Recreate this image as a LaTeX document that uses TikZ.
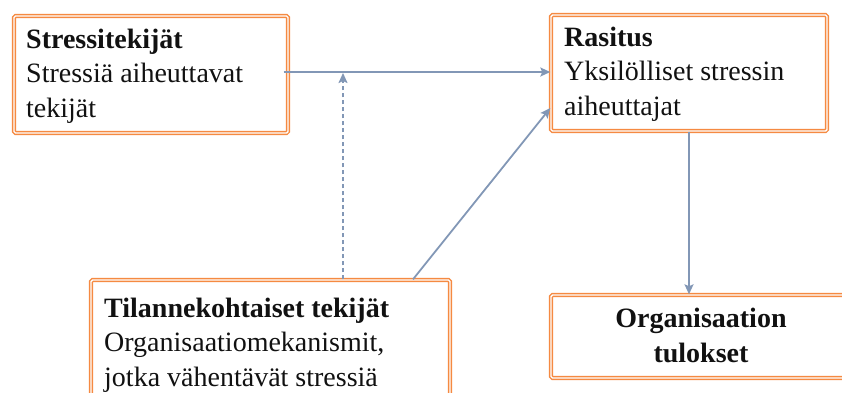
\documentclass[tikz,border=0pt]{standalone}
\usepackage{fontspec}
\setmainfont{Liberation Serif}
\usetikzlibrary{arrows.meta}
\definecolor{boxorange}{HTML}{F58A42}
\definecolor{linkblue}{HTML}{8297B6}
\definecolor{ink}{HTML}{111111}
\tikzset{
  framebox/.style={draw=boxorange, line width=1.4pt, double=white,
    double distance=1.4pt, rounded corners=1.5pt, inner sep=0pt},
  label text/.style={anchor=base west, inner sep=0pt, align=left,
    text=ink, font=\fontsize{28}{34.5}\selectfont},
  link/.style={draw=linkblue, line width=1.8pt,
    -{Stealth[length=10pt,width=9pt,inset=2pt]}},
  dashed link/.style={link, dash pattern=on 4.5pt off 2.5pt}
}
\begin{document}
\begin{tikzpicture}[x=1pt,y=1pt]
\useasboundingbox (0,0) rectangle (842,-392);

% boxes
\node[framebox, minimum width=274pt, minimum height=117pt] (box1) at (151,-74.5) {};
\node[framebox, minimum width=276pt, minimum height=116pt] (box2) at (689,-73) {};
\node[framebox, minimum width=359pt, minimum height=140pt] (box3) at (270.5,-350) {};
\node[framebox, minimum width=304pt, minimum height=83pt] (box4) at (703,-336.5) {};

% box texts (anchored on the baseline of their last line)
\node[label text] (t1) at (26,-117) {\textbf{Stressitekijät}\\Stressiä aiheuttavat\\tekijät};
\node[label text] (t2) at (564,-115) {\textbf{Rasitus}\\Yksilölliset stressin\\aiheuttajat};
\node[label text] (t3) at (104,-386) {\textbf{Tilannekohtaiset tekijät}\\Organisaatiomekanismit,\\jotka vähentävät stressiä};
\node[label text, anchor=base, align=center] (t4) at (701,-362) {\textbf{Organisaation}\\\textbf{tulokset}};

% connectors
\coordinate (j) at (343,-72);
\coordinate (d) at (413,0);
\coordinate (e) at (0,-108);
\coordinate (v) at (689,0);
\draw[link] ([xshift=-5pt]box1.east |- j) -- (box2.west |- j);
\draw[dashed link] (box3.north -| j) -- ([yshift=-1pt]j);
\draw[link] (box3.north -| d) -- (box2.west |- e);
\draw[link] (box2.south -| v) -- (box4.north -| v);
\end{tikzpicture}
\end{document}
